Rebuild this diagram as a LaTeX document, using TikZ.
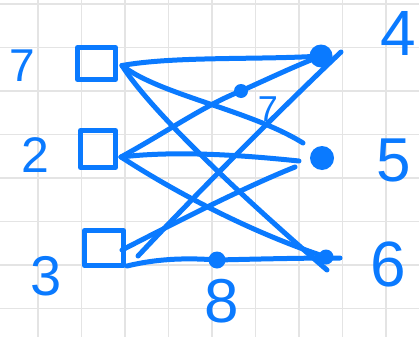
\documentclass[tikz,border=0pt]{standalone}
\usepackage{fontspec}
\setmainfont{Liberation Sans}
\definecolor{ink}{RGB}{10,122,255}
\definecolor{gridc}{RGB}{228,228,228}
\tikzset{
  gridline/.style={draw=gridc, line width=1.5pt},
  pen/.style={draw=ink, line width=5pt, line cap=round, line join=round},
  boxnode/.style={draw=ink, line width=5pt, rectangle, inner sep=0pt, line join=round},
  dotnode/.style={circle, fill=ink, inner sep=0pt},
  digit/.style={text=ink, inner sep=0pt, font=\fontsize{#1}{#1}\selectfont},
}
\begin{document}
\begin{tikzpicture}[x=1pt,y=-1pt]
\useasboundingbox (0,0) rectangle (419,337);
\fill[white] (0,0) rectangle (419,337);
% grid
\foreach \x in {38,81.5,...,400} \draw[gridline] (\x,0) -- (\x,337);
\foreach \y in {4,47.5,...,337} \draw[gridline] (0,\y) -- (419,\y);

% boxes
\node[boxnode, minimum width=38pt, minimum height=32pt] (b1) at (96.5,63.5) {};
\node[boxnode, minimum width=35pt, minimum height=37pt] (b2) at (98,149) {};
\node[boxnode, minimum width=39pt, minimum height=35pt] (b3) at (104,248) {};

% dots
\node[dotnode, minimum size=23pt] (n4) at (321,56) {};
\node[dotnode, minimum size=24pt] (n5) at (322,158) {};
\node[dotnode, minimum size=15pt] (n6) at (326,257) {};
\node[dotnode, minimum size=14pt] (d7) at (241,91) {};
\node[dotnode, minimum size=17pt] (d8) at (217,260) {};

% free ends
\coordinate (e1) at (303,143);
\coordinate (e2) at (299,161);
\coordinate (e3) at (295,167);
\coordinate (e4) at (341,52);
\coordinate (e5) at (327,270);
\coordinate (e6) at (340,258);

% labels
\node[digit=46] (l7) at (22,66) {7};
\node[digit=50] (l2) at (35,155) {2};
\node[digit=56] (l3) at (46,276) {3};
\node[digit=64] (l4) at (398,33) {4};
\node[digit=62] (l5) at (394,160) {5};
\node[digit=64] (l6) at (388,264) {6};
\node[digit=62] (l8) at (222,301) {8};
\node[digit=36] (l7b) at (268,109) {7};

% edges from box 1
\draw[pen] ([shift={(4,2)}]b1.east) .. controls (175,56) and (260,60) .. (n4.center);
\draw[pen] ([shift={(4,2)}]b1.east) .. controls (160,95) and (250,110) .. (e1);
\draw[pen] ([shift={(4,2)}]b1.east) .. controls (150,110) and (240,195) .. (e5);
% edges from box 2
\draw[pen] ([shift={(3,8)}]b2.east) .. controls (170,130) and (205,105) .. (d7.center)
  .. controls (270,78) and (295,66) .. (n4.center);
\draw[pen] ([shift={(3,8)}]b2.east) .. controls (180,150) and (250,156) .. (e2);
\draw[pen] ([shift={(3,8)}]b2.east) .. controls (175,192) and (250,232) .. (n6.center);
% edges from box 3
\draw[pen] ([shift={(-4,2)}]b3.east) .. controls (190,215) and (250,185) .. (e3);
\draw[pen] ([shift={(12,8)}]b3.east) .. controls (200,190) and (280,110) .. (e4);
\draw[pen] ([shift={(1,18)}]b3.east) .. controls (160,258) and (190,258) .. (d8.center)
  .. controls (260,259) and (300,258) .. (e6);
\end{tikzpicture}
\end{document}
